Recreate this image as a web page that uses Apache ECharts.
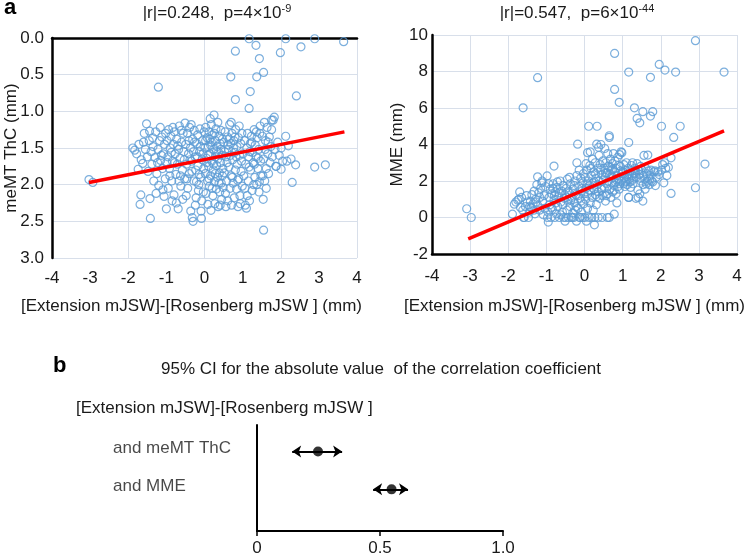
<!DOCTYPE html>
<html><head><meta charset="utf-8">
<script src="https://cdn.jsdelivr.net/npm/echarts@6/dist/echarts.min.js"></script>
<style>html,body{margin:0;padding:0;background:#fff}#c{width:749px;height:555px}</style>
</head><body><div id="c"></div>
<script>
// ---------- data ----------
const thcPoints = [
[1.17,0.01],[1.35,0.10],[0.81,0.18],[2.13,0.01],[2.89,0.01],[3.65,0.05],[2.53,0.12],[1.99,0.20],[1.44,0.28],[1.55,0.47],[1.37,0.53],[0.69,0.53],[1.20,0.73],[-1.21,0.67],[0.81,0.84],[2.41,0.79],[1.17,0.96],
[-3.03,1.93],[-2.93,1.97],[1.55,2.62],[2.89,1.76],[3.17,1.73],[2.30,1.97],[2.39,1.73],[1.87,1.75],[2.13,1.34],[2.01,1.50],[2.20,1.47],[1.83,1.08],[1.76,1.12],
[-1.88,1.50],[-1.83,1.53],[-1.78,1.58],[-1.72,1.45],[-1.66,1.66],[-1.74,1.79],[-1.62,1.71],[-1.55,1.52],[-1.58,1.30],[-1.52,1.17],[-1.67,2.14],[-1.69,2.27],[-1.43,2.19],[-1.42,2.46],[-1.60,1.42],[-1.50,1.62],
[-1.45,1.40],[-1.40,1.55],[-1.38,1.72],[-1.35,1.48],[-1.30,1.63],[-1.28,1.28],[-1.25,1.85],[-1.22,1.52],[-1.20,2.01],[-1.18,1.40],[-1.15,1.67],[-1.12,1.35],[-1.10,1.78],[-1.08,1.58],[-1.05,1.45],[-1.03,1.92],[-1.06,2.16],[-1.00,2.33],[-1.02,1.30],[-1.33,1.95],[-1.27,2.12],[-1.48,1.82],[-1.44,1.27],[-1.16,1.22],[-1.36,1.36],[-1.13,1.60],[-1.23,1.70],[-1.09,2.07],
[-0.98,1.40],[-0.96,1.62],[-0.94,1.25],[-0.92,1.78],[-0.90,1.50],[-0.88,1.34],[-0.86,1.95],[-0.84,1.68],[-0.82,1.45],[-0.80,2.14],[-0.79,1.28],[-0.77,1.58],[-0.75,1.86],[-0.73,1.38],[-0.71,1.72],[-0.69,2.33],[-0.68,1.52],[-0.66,1.20],[-0.64,1.64],[-0.62,2.02],[-0.60,1.42],[-0.58,1.80],[-0.56,1.30],[-0.54,1.55],[-0.52,1.92],[-0.51,1.16],[-0.95,2.05],[-0.87,1.56],[-0.83,1.22],[-0.78,1.70],[-0.70,1.47],[-0.63,1.88],[-0.57,2.20],[-0.53,1.66],[-0.91,1.88],[-0.74,2.25],[-0.61,1.26],[-0.67,1.95],[-0.99,1.70],[-0.85,2.22],
[-0.49,1.45],[-0.47,1.72],[-0.45,1.30],[-0.44,2.05],[-0.42,1.58],[-0.40,1.85],[-0.39,1.22],[-0.37,1.50],[-0.36,2.36],[-0.34,1.68],[-0.32,2.45],[-0.31,1.38],[-0.30,2.50],[-0.28,1.95],[-0.27,1.26],[-0.25,1.62],[-0.23,1.80],[-0.22,2.18],[-0.20,1.44],[-0.18,1.32],[-0.17,1.74],[-0.15,2.00],[-0.13,1.55],[-0.12,1.24],[-0.10,1.90],[-0.09,2.36],[-0.08,2.46],[-0.06,1.66],[-0.05,1.40],[-0.03,2.10],[-0.02,1.78],[-0.01,1.28],[-0.46,1.92],[-0.41,1.40],[-0.35,1.18],[-0.29,1.55],[-0.24,2.28],[-0.19,1.62],[-0.14,1.86],[-0.11,1.48],[-0.07,2.22],[-0.04,1.58],[-0.48,2.15],[-0.38,1.66],[-0.26,1.42],[-0.16,2.08],[-0.21,1.96],[-0.33,1.82],
[0.01,1.50],[0.02,1.85],[0.03,1.22],[0.04,2.12],[0.05,1.64],[0.07,1.36],[0.08,1.95],[0.09,2.27],[0.10,1.48],[0.11,1.75],[0.12,1.28],[0.13,2.02],[0.14,1.58],[0.15,1.10],[0.16,1.88],[0.17,2.35],[0.18,1.42],[0.19,1.68],[0.21,1.32],[0.22,2.15],[0.23,1.80],[0.24,1.52],[0.25,1.05],[0.26,1.96],[0.27,2.26],[0.28,1.40],[0.29,1.62],[0.30,1.24],[0.31,2.06],[0.32,1.74],[0.33,1.48],[0.34,1.90],[0.35,1.15],[0.36,2.30],[0.37,1.56],[0.38,1.34],[0.39,1.84],[0.40,2.10],[0.41,1.44],[0.42,1.70],[0.43,1.26],[0.44,1.98],[0.45,2.20],[0.46,1.60],[0.47,1.38],[0.48,1.78],[0.49,2.04],[0.06,1.70],[0.14,1.38],[0.20,2.05],[0.26,1.30],[0.31,1.55],[0.38,1.98],[0.43,1.52],[0.03,1.40],[0.12,1.92],[0.24,1.72],[0.35,1.65],[0.47,1.88],[0.09,1.60],[0.18,1.18],[0.41,2.28],[0.28,1.85],[0.16,1.46],
[0.51,1.42],[0.52,1.84],[0.54,1.28],[0.55,2.12],[0.57,1.62],[0.58,1.95],[0.60,1.35],[0.61,2.22],[0.63,1.52],[0.64,1.76],[0.66,1.18],[0.67,2.05],[0.69,1.44],[0.70,1.88],[0.71,2.28],[0.72,1.30],[0.74,1.66],[0.75,1.98],[0.77,1.40],[0.78,2.18],[0.79,1.56],[0.81,1.80],[0.82,1.25],[0.84,2.06],[0.85,1.48],[0.86,1.72],[0.88,2.30],[0.89,1.36],[0.90,1.92],[0.92,1.60],[0.93,2.15],[0.95,1.44],[0.96,1.82],[0.98,1.30],[0.99,2.02],[0.53,1.55],[0.59,1.70],[0.65,1.38],[0.68,1.60],[0.73,1.90],[0.76,1.50],[0.83,1.62],[0.87,1.94],[0.91,1.20],[0.97,1.68],[0.56,2.30],[0.62,1.46],[0.80,1.35],[0.94,2.26],[0.70,1.15],
[1.01,1.58],[1.03,1.88],[1.05,1.40],[1.06,2.05],[1.08,1.72],[1.10,2.32],[1.11,1.50],[1.13,1.30],[1.15,1.95],[1.16,1.62],[1.18,2.22],[1.20,1.44],[1.21,1.80],[1.23,1.34],[1.25,2.08],[1.26,1.56],[1.28,1.70],[1.30,1.25],[1.32,1.90],[1.33,1.46],[1.35,1.62],[1.37,2.00],[1.38,1.36],[1.40,1.78],[1.42,1.52],[1.43,2.10],[1.45,1.30],[1.47,1.68],[1.48,1.88],[1.12,2.15],[1.19,1.55],[1.24,1.42],[1.31,1.72],[1.36,1.28],[1.44,1.96],[1.07,2.28],[1.17,1.76],[1.29,2.00],[1.41,1.64],[1.46,1.20],
[1.52,1.34],[1.55,1.65],[1.57,1.15],[1.58,1.95],[1.60,1.40],[1.62,1.78],[1.64,1.22],[1.66,1.58],[1.68,1.85],[1.70,1.35],[1.72,1.70],[1.74,1.48],[1.78,1.62],[1.80,1.12],[1.85,1.52],[1.88,1.75],[1.92,1.42],[1.96,1.60],[2.01,1.79],[2.05,1.68],[2.16,1.68],[2.27,1.65],[1.54,2.20],[1.62,2.05],[1.53,1.88],[1.76,1.25],[1.67,1.42],[1.59,1.52]
];
const mmePoints = [
[2.91,9.69],[0.79,8.99],[1.96,8.39],[2.11,8.08],[2.39,7.97],[1.16,7.97],[3.66,7.97],[-1.23,7.66],[1.73,7.68],[0.79,7.02],[0.91,6.31],[-1.61,6.01],[1.31,6.01],[1.53,5.80],[1.79,5.80],[1.73,5.56],[1.38,5.43],[1.45,5.19],[0.11,5.00],[0.33,5.00],[2.02,5.00],[2.51,5.00],[0.65,4.48],[0.65,4.39],[2.34,4.39],[1.16,4.11],[-0.18,4.02],[0.32,4.02],[0.43,4.00],[0.53,3.78],[0.08,3.55],[0.98,3.55],[-0.20,3.00],[-0.80,2.82],[1.66,3.42],[2.27,3.27],[3.16,2.93],[2.91,1.63],[2.27,1.32],[2.08,1.90],[1.53,0.90],[1.16,1.10],[1.41,1.10],[0.85,0.80],[0.78,0.18],[0.60,0.0],[0.65,0.0],[0.26,-0.40],[-3.09,0.48],[-2.97,0.0],
[-1.89,0.18],[-1.84,0.73],[-1.80,0.85],[-1.75,0.95],[-1.72,1.0],[-1.70,1.40],[-1.65,1.10],[-1.62,0.40],[-1.60,0.0],[-1.58,0.0],[-1.55,0.60],[-1.52,1.20],[-1.68,0.55],[-1.50,0.85],
[-1.47,0.0],[-1.45,0.30],[-1.42,0.90],[-1.40,0.55],[-1.38,1.25],[-1.35,0.75],[-1.32,1.45],[-1.30,0.20],[-1.28,1.00],[-1.25,1.80],[-1.23,2.23],[-1.22,0.65],[-1.20,1.35],[-1.18,0.40],[-1.15,1.60],[-1.12,1.90],[-1.10,0.90],[-1.08,0.15],[-1.06,1.20],[-1.04,0.50],[-1.02,1.70],[-1.27,0.85],[-1.17,1.10],[-1.33,0.40],[-1.11,2.00],[-1.44,0.60],
[-0.98,2.28],[-0.97,0.0],[-0.96,0.30],[-0.95,-0.25],[-0.93,1.10],[-0.91,0.70],[-0.90,1.55],[-0.88,0.0],[-0.86,1.30],[-0.84,0.45],[-0.82,1.85],[-0.80,0.95],[-0.78,0.0],[-0.76,1.40],[-0.74,0.20],[-0.72,1.65],[-0.70,0.60],[-0.68,1.15],[-0.66,0.0],[-0.64,2.00],[-0.62,0.85],[-0.60,1.45],[-0.58,0.30],[-0.56,1.75],[-0.55,0.0],[-0.53,1.05],[-0.51,-0.20],[-0.94,1.85],[-0.87,0.55],[-0.79,1.20],[-0.71,1.95],[-0.63,0.15],[-0.57,0.70],[-0.83,1.60],[-0.67,1.35],[-0.75,0.80],[-0.52,1.25],
[-0.49,0.0],[-0.48,1.60],[-0.46,0.40],[-0.45,2.10],[-0.43,0.90],[-0.42,0.0],[-0.40,1.35],[-0.38,0.60],[-0.37,1.85],[-0.35,0.0],[-0.33,1.10],[-0.31,0.25],[-0.30,1.55],[-0.28,0.0],[-0.26,0.80],[-0.25,2.00],[-0.23,1.25],[-0.21,-0.20],[-0.20,2.30],[-0.17,0.50],[-0.15,1.70],[-0.13,0.0],[-0.12,1.05],[-0.10,2.15],[-0.08,0.30],[-0.07,1.45],[-0.05,0.0],[-0.04,1.90],[-0.02,0.75],[-0.01,1.30],[-0.47,1.10],[-0.39,2.20],[-0.32,0.0],[-0.27,1.75],[-0.22,0.60],[-0.16,1.20],[-0.11,0.0],[-0.06,1.60],[-0.03,2.40],[-0.44,1.40],[-0.36,0.95],[-0.24,0.40],[-0.14,2.60],[-0.09,0.90],
[0.01,0.0],[0.02,2.20],[0.03,1.00],[0.04,1.60],[0.05,-0.20],[0.06,2.60],[0.08,0.50],[0.09,1.30],[0.10,2.00],[0.12,0.0],[0.13,1.75],[0.14,2.85],[0.15,0.80],[0.16,1.45],[0.18,2.30],[0.19,0.0],[0.20,1.10],[0.21,3.20],[0.22,1.90],[0.23,0.40],[0.24,2.50],[0.25,1.55],[0.27,0.0],[0.28,3.00],[0.29,1.25],[0.30,2.15],[0.31,0.70],[0.34,1.80],[0.35,2.70],[0.36,0.0],[0.37,1.40],[0.38,3.40],[0.39,2.00],[0.40,1.05],[0.41,2.90],[0.44,1.65],[0.45,2.35],[0.46,0.0],[0.47,1.20],[0.48,3.10],[0.49,2.05],[0.07,1.85],[0.17,2.70],[0.26,1.95],[0.33,1.15],[0.42,2.60],[0.04,2.95],[0.15,3.60],[0.29,2.40],[0.37,3.85],[0.12,1.50],[0.45,1.55],
[0.51,2.70],[0.52,1.60],[0.54,2.20],[0.55,0.90],[0.56,3.00],[0.58,1.85],[0.59,2.45],[0.60,1.30],[0.62,2.80],[0.63,2.00],[0.66,1.55],[0.67,2.35],[0.68,3.20],[0.69,1.10],[0.70,2.60],[0.72,1.90],[0.73,2.95],[0.74,1.40],[0.75,2.20],[0.76,3.50],[0.77,1.75],[0.79,2.50],[0.80,3.10],[0.81,1.95],[0.82,2.70],[0.83,1.30],[0.86,2.30],[0.87,3.30],[0.88,1.70],[0.89,2.85],[0.90,2.10],[0.92,3.45],[0.93,1.85],[0.95,2.55],[0.96,3.60],[0.97,2.00],[0.99,2.40],[0.57,1.20],[0.61,3.50],[0.71,2.25],[0.84,2.05],[0.94,2.80],[0.66,2.75],[0.78,1.50],[0.91,1.55],[0.55,2.45],[0.74,2.65],
[1.01,2.50],[1.02,1.85],[1.03,2.90],[1.05,2.20],[1.06,1.70],[1.08,2.60],[1.09,2.00],[1.10,3.00],[1.12,1.80],[1.13,2.35],[1.15,2.70],[1.16,1.10],[1.17,2.10],[1.19,1.95],[1.20,2.55],[1.21,1.65],[1.23,2.85],[1.25,2.30],[1.26,3.00],[1.27,1.85],[1.29,2.45],[1.30,2.15],[1.32,2.70],[1.33,2.40],[1.35,1.05],[1.36,2.20],[1.38,2.95],[1.40,1.50],[1.42,2.60],[1.44,2.35],[1.45,1.30],[1.47,2.80],[1.48,2.00],[1.11,2.25],[1.24,2.00],[1.34,2.55],[1.46,2.15],[1.07,1.95],[1.18,2.40],
[1.51,2.60],[1.54,1.80],[1.55,2.30],[1.56,3.40],[1.58,2.10],[1.60,2.70],[1.62,1.85],[1.63,2.40],[1.65,2.00],[1.68,2.55],[1.70,1.80],[1.72,2.30],[1.74,2.60],[1.76,2.00],[1.79,1.95],[1.82,2.50],[1.85,2.55],[1.88,2.20],[1.92,2.50],[1.96,2.35],[2.02,2.60],[2.05,2.90],[2.10,3.00],[2.13,2.70],[2.16,2.30],[2.20,2.75],[1.59,1.55],[1.71,2.10],[1.86,1.75]
];
const thcFit = [[-3.03, 1.97], [3.67, 1.28]];
const mmeFit = [[-3.05, -1.17], [3.66, 4.75]];
const thcTitle = ['|r|=0.248,  p=4×10', '-9'];
const mmeTitle = ['|r|=0.547,  p=6×10', '-44'];
const xName = '[Extension mJSW]-[Rosenberg mJSW ] (mm)';
const ciRows = ['and meMT ThC', 'and MME'];
const ciEst = [0.248, 0.547];
const ciLow = [0.143, 0.472];
const ciHigh = [0.346, 0.614];
const ciTickLabels = {0: '0', 0.5: '0.5', 1: '1.0'};

// ---------- styles ----------
const FONT = "'Liberation Sans', Arial, sans-serif";
const GRID = '#D8DFEA';
const BLUE = '#5B9BD5';
const TXT = '#1a1a1a';

const chart = echarts.init(document.getElementById('c'));

const option = {
  animation: false,
  backgroundColor: '#fff',
  grid: [
    {left: 52, top: 38, width: 305, height: 220, outerBoundsMode: 'none', containLabel: false},
    {left: 432, top: 35, width: 305, height: 219, outerBoundsMode: 'none', containLabel: false},
    {left: 257, top: 425, width: 246, height: 106, outerBoundsMode: 'none', containLabel: false}
  ],
  xAxis: [
    {gridIndex: 0, type: 'value', min: -4, max: 4, interval: 1, position: 'bottom',
     axisLine: {show: false}, axisTick: {show: false}, splitLine: {show: false},
     axisLabel: {fontFamily: FONT, fontSize: 17, color: TXT, margin: 12},
     name: xName, nameLocation: 'middle', nameGap: 40, nameMoveOverlap: false,
     nameTextStyle: {fontFamily: FONT, fontSize: 17, color: TXT, padding: [0, 26, 0, 0]}},
    {gridIndex: 0, type: 'value', min: -4, max: 4, interval: 2, position: 'top',
     axisLine: {show: true, onZero: false, lineStyle: {color: '#000', width: 2.5}},
     axisTick: {show: false}, axisLabel: {show: false},
     splitLine: {show: true, lineStyle: {color: GRID, width: 1}}},
    {gridIndex: 1, type: 'value', min: -4, max: 4, interval: 1, position: 'bottom',
     axisLine: {show: true, onZero: false, lineStyle: {color: '#000', width: 2.5}},
     axisTick: {show: false},
     axisLabel: {fontFamily: FONT, fontSize: 17, color: TXT, margin: 14},
     splitLine: {show: true, lineStyle: {color: GRID, width: 1}},
     name: xName, nameLocation: 'middle', nameGap: 44, nameMoveOverlap: false,
     nameTextStyle: {fontFamily: FONT, fontSize: 17, color: TXT, padding: [0, 20, 0, 0]}},
    {gridIndex: 2, type: 'value', min: 0, max: 1, interval: 0.5, position: 'bottom',
     axisLine: {show: true, onZero: false, lineStyle: {color: '#000', width: 2}},
     axisTick: {show: true, length: 5, lineStyle: {color: '#000', width: 1.5}},
     axisLabel: {fontFamily: FONT, fontSize: 17, color: TXT, margin: 9, formatter: v => ciTickLabels[v]},
     splitLine: {show: false}}
  ],
  yAxis: [
    {gridIndex: 0, type: 'value', min: 0, max: 3, interval: 0.5, inverse: true,
     axisLine: {show: true, onZero: false, lineStyle: {color: '#000', width: 2.5}},
     axisTick: {show: false},
     axisLabel: {fontFamily: FONT, fontSize: 17, color: TXT, margin: 8, formatter: v => v.toFixed(1)},
     splitLine: {show: true, lineStyle: {color: GRID, width: 1}},
     name: 'meMT ThC (mm)', nameLocation: 'middle', nameGap: 32, nameMoveOverlap: false,
     nameTextStyle: {fontFamily: FONT, fontSize: 17, color: TXT}},
    {gridIndex: 1, type: 'value', min: -2, max: 10, interval: 2,
     axisLine: {show: true, onZero: false, lineStyle: {color: '#000', width: 2.5}},
     axisTick: {show: false},
     axisLabel: {fontFamily: FONT, fontSize: 17, color: TXT, margin: 4},
     splitLine: {show: true, lineStyle: {color: GRID, width: 1}},
     name: 'MME (mm)', nameLocation: 'middle', nameGap: 26, nameMoveOverlap: false,
     nameTextStyle: {fontFamily: FONT, fontSize: 17, color: TXT}},
    {gridIndex: 2, type: 'value', min: -0.7, max: 2.1, inverse: true,
     axisLine: {show: true, onZero: false, lineStyle: {color: '#000', width: 2}},
     axisTick: {show: false}, axisLabel: {show: false}, splitLine: {show: false}}
  ],
  series: [
    {type: 'scatter', xAxisIndex: 0, yAxisIndex: 0, data: thcPoints, symbol: 'circle', symbolSize: 8,
     itemStyle: {color: 'rgba(255,255,255,0)', borderColor: BLUE, borderWidth: 1.2}, silent: true},
    {type: 'line', xAxisIndex: 0, yAxisIndex: 0, data: thcFit, symbol: 'none',
     lineStyle: {color: '#FF0000', width: 3.5}, silent: true},
    {type: 'scatter', xAxisIndex: 2, yAxisIndex: 1, data: mmePoints, symbol: 'circle', symbolSize: 8,
     itemStyle: {color: 'rgba(255,255,255,0)', borderColor: BLUE, borderWidth: 1.2}, silent: true},
    {type: 'line', xAxisIndex: 2, yAxisIndex: 1, data: mmeFit, symbol: 'none',
     lineStyle: {color: '#FF0000', width: 3.5}, silent: true},
    {type: 'lines', coordinateSystem: 'cartesian2d', xAxisIndex: 3, yAxisIndex: 2,
     data: ciRows.map((r, i) => ({coords: [[ciLow[i], i], [ciHigh[i], i]]})),
     symbol: ['arrow', 'arrow'], symbolSize: 9,
     lineStyle: {color: '#000', width: 2, opacity: 1}, silent: true},
    {type: 'scatter', xAxisIndex: 3, yAxisIndex: 2, data: ciEst.map((v, i) => [v, i]),
     symbol: 'circle', symbolSize: 10, itemStyle: {color: '#000'}, silent: true},
    {type: 'scatter', xAxisIndex: 3, yAxisIndex: 2, data: ciRows.map((r, i) => [0, i, r]),
     symbolSize: 0, silent: true,
     label: {show: true, position: 'left', distance: 144, align: 'left', offset: [0, -3],
       fontFamily: FONT, fontSize: 17, color: TXT, formatter: p => p.value[2]}}
  ],
  graphic: [
    {type: 'text', left: 4, top: -3, style: {text: 'a', font: "bold 22px " + FONT, fill: '#000'}},
    {type: 'text', x: 217, y: 13, style: {text: thcTitle[0] + '{s|' + thcTitle[1] + '}', align: 'center', verticalAlign: 'middle',
      fontFamily: FONT, fontSize: 17, fill: TXT, lineHeight: 20,
      rich: {s: {fontFamily: FONT, fontSize: 11, fill: TXT, verticalAlign: 'top', lineHeight: 20}}}},
    {type: 'text', x: 577, y: 13, style: {text: mmeTitle[0] + '{s|' + mmeTitle[1] + '}', align: 'center', verticalAlign: 'middle',
      fontFamily: FONT, fontSize: 17, fill: TXT, lineHeight: 20,
      rich: {s: {fontFamily: FONT, fontSize: 11, fill: TXT, verticalAlign: 'top', lineHeight: 20}}}},
    {type: 'text', left: 53, top: 355, style: {text: 'b', font: "bold 22px " + FONT, fill: '#000'}},
    {type: 'text', x: 381, y: 369, style: {text: '95% CI for the absolute value  of the correlation coefficient',
      align: 'center', verticalAlign: 'middle', fontFamily: FONT, fontSize: 17, fill: TXT}},
    {type: 'text', x: 76, y: 408, style: {text: '[Extension mJSW]-[Rosenberg mJSW ]',
      align: 'left', verticalAlign: 'middle', fontFamily: FONT, fontSize: 17, fill: TXT}}
  ]
};
chart.setOption(option);
</script></body></html>
